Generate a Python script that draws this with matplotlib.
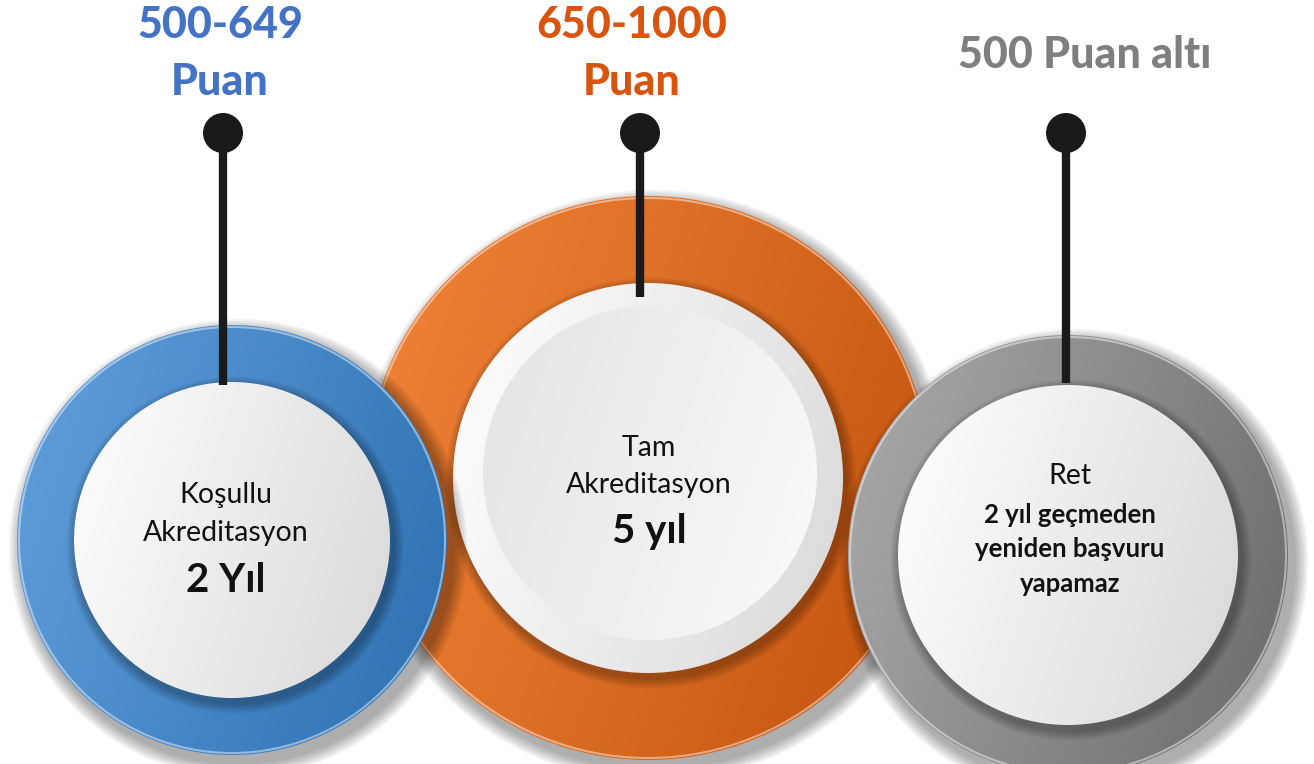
import matplotlib.pyplot as plt
import numpy as np
from matplotlib.colors import LinearSegmentedColormap
from matplotlib.patches import Circle

plt.rcParams["font.family"] = ["Lato", "DejaVu Sans"]

# ---- content -------------------------------------------------------------
top_labels = ["500-649\nPuan", "650-1000\nPuan", "500 Puan altı"]
top_colors = ["#4472C4", "#D9550F", "#7F7F7F"]
inner_plain = ["Koşullu\nAkreditasyon", "Tam\nAkreditasyon", "Ret"]
inner_bold = ["2 Yıl", "5 yıl", "2 yıl geçmeden\nyeniden başvuru\nyapamaz"]
ring_light = ["#62A0DC", "#F2853A", "#ABABAB"]
ring_dark = ["#2C6FB0", "#C2520C", "#6A6A6A"]

# layout (pixels, y down)
centers = [(232, 540), (648, 478), (1068, 555)]
ring_r = [215, 282, 220]
disc_r = [158, 195, 170]
pin_x = [223, 640, 1066]
pin_bottom = [385, 297, 383]
label_x = [220, 632, 1085]
label_y = [[25, 82], [25, 82], [55]]
plain_y = [[495, 533], [448, 485], [476]]
bold_y = [[580], [532], [515, 549, 584]]
text_x = [226, 649, 1070]

W, H = 1314, 764
fig = plt.figure(figsize=(W / 100, H / 100), dpi=100)
ax = fig.add_axes([0, 0, 1, 1])
ax.set_xlim(0, W)
ax.set_ylim(H, 0)
ax.set_aspect("equal")
ax.axis("off")


def grad_disc(cx, cy, r, c1, c2, z):
    clip = Circle((cx, cy), r, transform=ax.transData, facecolor="none", edgecolor="none")
    ax.add_patch(clip)
    n = 200
    xx, yy = np.meshgrid(np.linspace(0, 1, n), np.linspace(0, 1, n))
    t = 0.75 * xx + 0.25 * yy
    cmap = LinearSegmentedColormap.from_list("g", [c1, c2])
    im = ax.imshow(t, cmap=cmap, extent=(cx - r, cx + r, cy + r, cy - r),
                   origin="upper", zorder=z, interpolation="bilinear")
    im.set_clip_path(clip)


def shadow(cx, cy, r, z, dx=6, dy=8, strength=0.05, spread=14):
    for k in range(spread, 0, -2):
        ax.add_patch(Circle((cx + dx, cy + dy), r + k, facecolor="black",
                            edgecolor="none", alpha=strength, zorder=z))


order = [1, 0, 2]  # orange behind, blue and gray on top
for rank, i in enumerate(order):
    cx, cy = centers[i]
    base = rank * 10
    shadow(cx, cy, ring_r[i], base + 1)
    grad_disc(cx, cy, ring_r[i], ring_light[i], ring_dark[i], base + 2)
    ax.add_patch(Circle((cx, cy), ring_r[i] - 2, facecolor="none",
                        edgecolor="white", lw=1.5, alpha=0.45, zorder=base + 3))
    shadow(cx, cy, disc_r[i], base + 4, dx=3, dy=5, strength=0.06, spread=10)
    grad_disc(cx, cy, disc_r[i], "#FFFFFF", "#D8D8D8", base + 5)
    if i == 1:
        grad_disc(cx + 2, cy - 5, disc_r[i] - 28, "#E4E4E4", "#FAFAFA", base + 6)

# pins
for i in range(3):
    ax.plot([pin_x[i], pin_x[i]], [133, pin_bottom[i]], color="#1A1A1A",
            lw=6, solid_capstyle="butt", zorder=40)
    ax.add_patch(Circle((pin_x[i], 133), 20, facecolor="#1A1A1A",
                        edgecolor="none", zorder=41))

# top labels
for i in range(3):
    for line, y in zip(top_labels[i].split("\n"), label_y[i]):
        ax.text(label_x[i], y, line, color=top_colors[i], fontsize=31,
                fontweight="black", ha="center", va="center", zorder=50)

# inner texts
bold_size = [29, 29, 18.5]
for i in range(3):
    for line, y in zip(inner_plain[i].split("\n"), plain_y[i]):
        ax.text(text_x[i], y, line, fontsize=20.5, ha="center", va="center",
                color="#111111", zorder=50)
    for line, y in zip(inner_bold[i].split("\n"), bold_y[i]):
        ax.text(text_x[i], y, line, fontsize=bold_size[i], fontweight="bold",
                ha="center", va="center", color="#111111", zorder=50)

fig.savefig("out.png", dpi=100, facecolor="white")
